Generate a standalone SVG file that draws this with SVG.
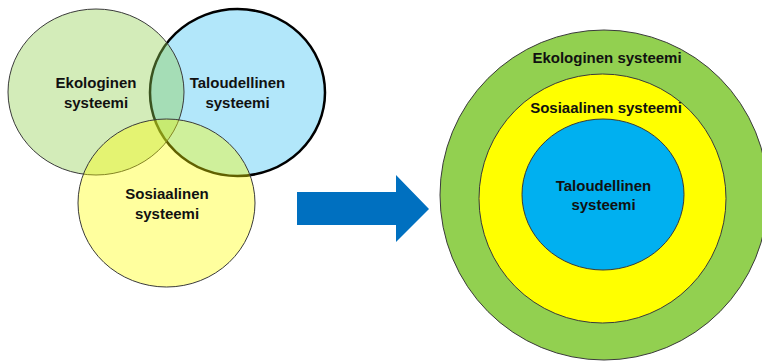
<svg xmlns="http://www.w3.org/2000/svg" width="762" height="361" viewBox="0 0 762 361">
<style>
text{font-family:"Liberation Sans",Arial,sans-serif;font-weight:bold;font-size:15px;fill:#111;text-anchor:middle}
.v{stroke:#3a3a3a;stroke-width:1}
</style>
<rect width="762" height="361" fill="#fff"/>
<g id="venn">
<g id="taloudellinen-venn">
<ellipse cx="237.5" cy="92.5" rx="87.5" ry="83.5" fill="#00B0F0" fill-opacity="0.3" stroke="#000" stroke-width="2.5"/>
</g>
<g id="ekologinen-venn">
<ellipse class="v" cx="96" cy="92" rx="88" ry="83" fill="#92D050" fill-opacity="0.4"/>
</g>
<g id="sosiaalinen-venn">
<ellipse class="v" cx="166.5" cy="203" rx="88.5" ry="84" fill="#FFFF00" fill-opacity="0.38"/>
</g>
<text x="96" y="88">Ekologinen</text>
<text x="96" y="108">systeemi</text>
<text x="237.5" y="88">Taloudellinen</text>
<text x="237.5" y="108">systeemi</text>
<text x="167" y="199">Sosiaalinen</text>
<text x="167" y="219">systeemi</text>
</g>
<g id="connectors">
<polygon points="297,192 396,192 396,175 429,209 396,242 396,225 297,225" fill="#0070C0"/>
</g>
<g id="nested">
<g id="ekologinen"><ellipse class="v" cx="604" cy="195" rx="164" ry="165" fill="#92D050"/><text x="607" y="63">Ekologinen systeemi</text></g>
<g id="sosiaalinen"><ellipse class="v" cx="602.5" cy="198.5" rx="123.5" ry="124.5" fill="#FFFF00"/><text x="606" y="113">Sosiaalinen systeemi</text></g>
<g id="taloudellinen"><ellipse class="v" cx="603" cy="194.5" rx="81" ry="75.5" fill="#00B0F0"/><text x="603.5" y="191">Taloudellinen</text><text x="603.5" y="210">systeemi</text></g>
</g>
</svg>
